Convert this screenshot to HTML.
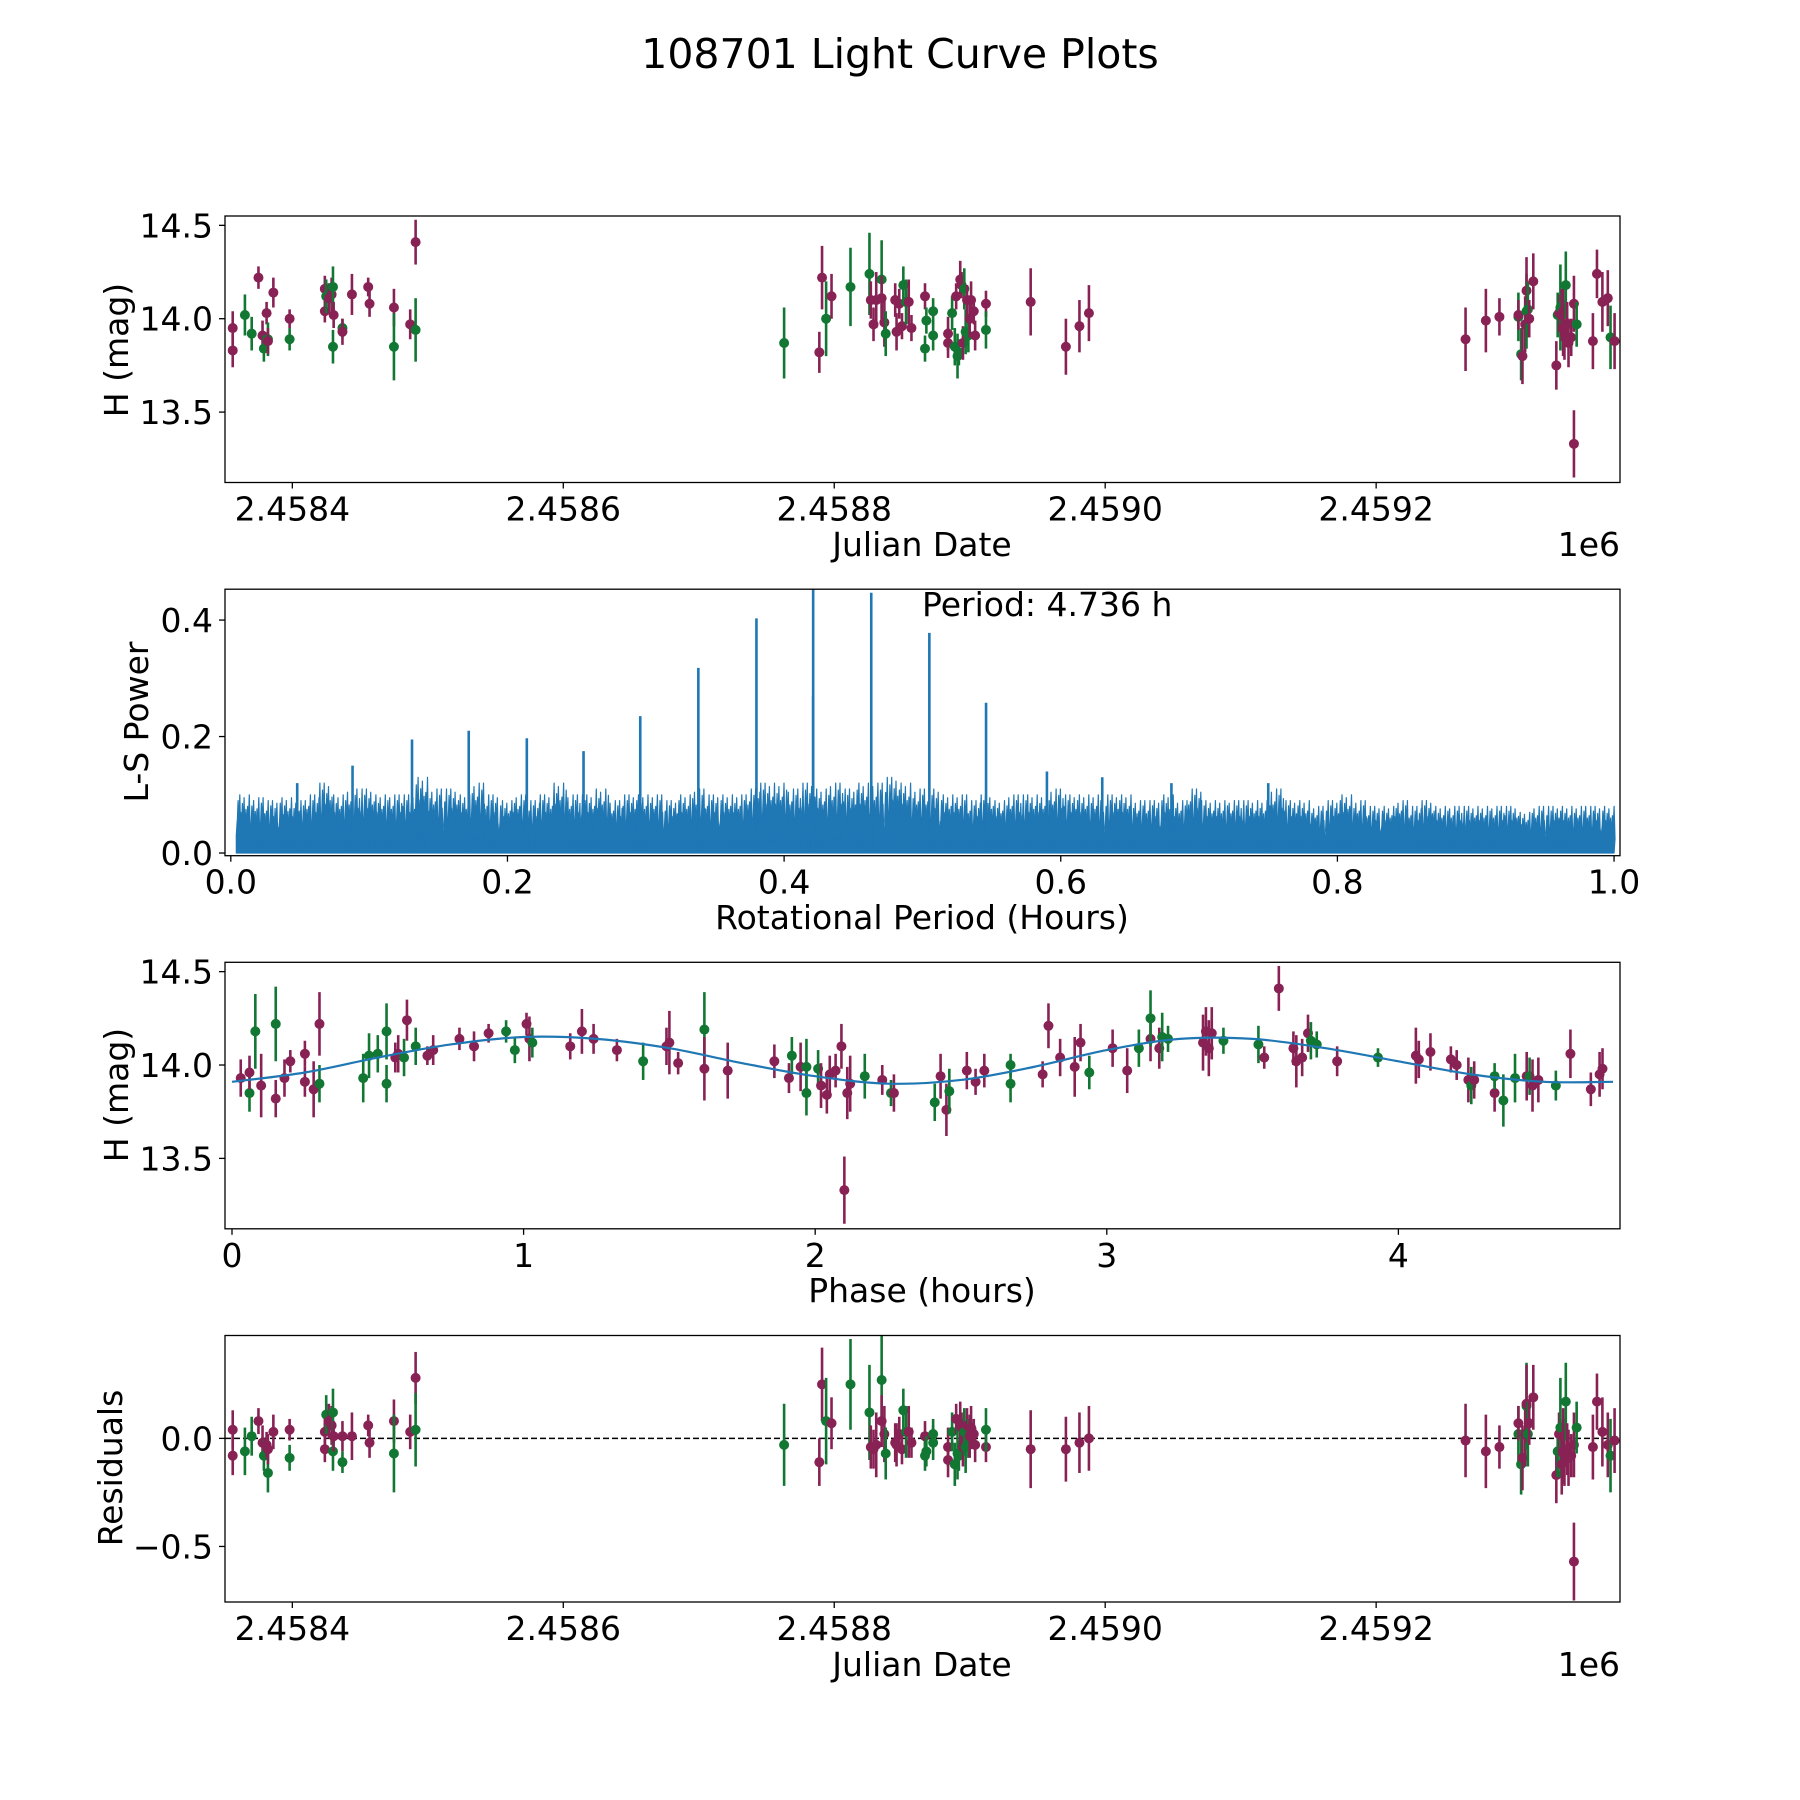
<!DOCTYPE html>
<html><head><meta charset="utf-8"><style>
html,body{margin:0;padding:0;background:#fff}
svg{display:block}
text{font-family:"DejaVu Sans","Liberation Sans",sans-serif;fill:#000}
</style></head><body>
<svg id="fig" width="1800" height="1800" viewBox="0 0 1800 1800" xmlns="http://www.w3.org/2000/svg">
<rect width="1800" height="1800" fill="#fff"/>
<text x="900" y="68" font-size="41" text-anchor="middle">108701 Light Curve Plots</text>
</svg>
<script>
// ---- Data: observations (JD offset from 2458400, magnitude, error, band) ----
const JD_BASE = 2458400;
const obsDay = [-44,-44,-35,-30,-25,-22,-21,-19,-18,-18,-14,-2,-2,24,24,25,27,29,30,30,30.5,37,37,44,56,57,75,75,87,91,91,
363,389,391,394,398,412,426,427,429,431,435,435,437,438,445,446,448,450,451,453,455,457,467,468,467,473,473,484,484,487,489,490,491,492,493,494,495,496,497,498,499,500,501,503,504,512,512,545,571,581,588,
866,881,891,905,905,907,908,910,911,911,912,913,916,933,934,935,936,937,938,938,939,940,941,942,944,946,946,948,960,963,967,971,973,976];
const obsMag = [13.95,13.83,14.02,13.92,14.22,13.91,13.84,14.03,13.89,13.88,14.14,14.00,13.89,14.04,14.16,14.12,14.11,14.13,13.85,14.17,14.02,13.95,13.93,14.13,14.17,14.08,14.06,13.85,13.97,14.41,13.94,
13.87,13.82,14.22,14.00,14.12,14.17,14.24,14.10,13.97,14.10,14.21,14.11,13.98,13.92,14.10,13.93,14.08,13.96,14.18,14.09,14.09,13.95,14.12,13.99,13.84,14.04,13.91,13.87,13.92,14.03,13.85,14.12,13.80,13.82,14.21,14.18,13.87,14.16,13.93,14.10,13.91,14.00,14.10,14.04,13.91,14.08,13.94,14.09,13.85,13.96,14.03,
13.89,13.99,14.01,14.01,14.02,13.81,13.80,13.97,14.04,14.15,14.05,14.00,14.20,13.75,14.02,14.03,14.06,14.02,13.95,14.04,13.92,14.18,13.97,13.87,13.90,13.33,14.08,13.97,13.88,14.24,14.09,14.11,13.90,13.88];
const obsErr = [0.09,0.09,0.11,0.09,0.06,0.08,0.07,0.06,0.09,0.07,0.08,0.05,0.06,0.06,0.07,0.09,0.08,0.09,0.09,0.11,0.07,0.05,0.07,0.11,0.05,0.07,0.1,0.18,0.08,0.12,0.17,
0.19,0.11,0.17,0.2,0.12,0.21,0.22,0.1,0.09,0.15,0.21,0.12,0.13,0.12,0.09,0.1,0.08,0.07,0.1,0.12,0.12,0.07,0.07,0.07,0.07,0.07,0.08,0.08,0.09,0.09,0.1,0.07,0.12,0.07,0.1,0.07,0.09,0.11,0.12,0.08,0.09,0.1,0.1,0.07,0.08,0.07,0.1,0.18,0.15,0.14,0.15,
0.17,0.17,0.1,0.13,0.08,0.14,0.15,0.15,0.2,0.18,0.15,0.1,0.15,0.13,0.12,0.1,0.23,0.14,0.15,0.13,0.14,0.18,0.12,0.13,0.1,0.18,0.15,0.12,0.15,0.13,0.16,0.15,0.17,0.15];
const obsBand = ("mmggmmgmgm"+"mmgmmgmmgg"+"mgmmmmmgmm"+"g"+
  "gmmgmggmmm"+"gmmgmmmmgg"+"mmmggggmmgm".slice(0,10)+"gmggmmmggm"+"gmmmmmgmmm"+"m"+
  "mmmgmgmmgm"+"gmmmgmgmmm"+"mgmmmmmgmm"+"mmgm").split('');
const residual = [0.04,-0.08,-0.06,0.01,0.08,-0.02,-0.08,-0.03,-0.16,-0.05,0.03,0.04,-0.09,-0.05,0.03,0.11,0.08,0.06,-0.06,0.12,0.01,-0.11,0.01,0.01,0.06,-0.02,0.08,-0.07,0.03,0.28,0.04,
-0.03,-0.11,0.25,0.08,0.07,0.25,0.12,-0.04,-0.05,-0.03,0.27,0.08,0.02,-0.07,-0.02,-0.03,0.02,-0.05,0.13,0.03,0.03,-0.02,0.01,-0.06,-0.08,0.02,-0.02,-0.1,-0.04,0.03,-0.12,0.09,-0.07,-0.08,0.07,0.05,-0.04,0.03,-0.04,0.06,0.0,0.01,0.05,0.02,-0.03,-0.04,0.04,-0.05,-0.05,-0.02,0.0,
-0.01,-0.06,-0.04,0.02,0.07,-0.12,-0.09,0.02,0.15,0.16,0.02,0.07,0.19,-0.17,-0.06,0.02,0.05,-0.12,-0.06,0.01,-0.08,0.17,-0.05,-0.09,-0.08,-0.57,-0.03,0.05,-0.04,0.17,0.03,-0.03,-0.08,-0.01];

// ---- Data: phased light curve ----
const phase = [0.03,0.06,0.06,0.08,0.1,0.15,0.15,0.18,0.2,0.25,0.25,0.28,0.3,0.3,0.45,0.47,0.5,0.53,0.53,0.56,0.57,0.59,0.6,0.63,0.67,0.69,0.78,0.83,0.88,0.94,0.97,1.01,1.02,1.03,1.16,1.2,1.24,1.32,1.41,1.49,1.5,1.53,1.62,1.62,1.7,1.86,1.91,1.92,1.95,1.97,1.97,2.01,2.02,2.04,2.05,2.07,2.09,2.11,2.1,2.12,2.17,2.23,2.26,2.27,2.41,2.43,2.45,2.46,2.52,2.55,2.58,2.67,2.67,2.78,2.8,2.84,2.89,2.91,2.94,3.02,3.07,3.11,3.15,3.15,3.18,3.19,3.21,3.33,3.34,3.35,3.36,3.4,3.52,3.54,3.59,3.64,3.65,3.67,3.69,3.7,3.72,3.79,3.93,4.06,4.07,4.11,4.18,4.2,4.24,4.25,4.26,4.33,4.33,4.36,4.4,4.44,4.45,4.46,4.48,4.54,4.59,4.66,4.69,4.7];
const phaseMag = [13.93,13.85,13.96,14.18,13.89,14.22,13.82,13.93,14.02,14.06,13.91,13.87,14.22,13.90,13.93,14.05,14.06,13.90,14.18,14.04,14.06,14.04,14.24,14.10,14.05,14.08,14.14,14.10,14.17,14.18,14.08,14.22,14.14,14.12,14.10,14.18,14.14,14.08,14.02,14.10,14.12,14.01,14.19,13.98,13.97,14.02,13.93,14.05,13.99,13.99,13.85,13.98,13.89,13.84,13.95,13.97,14.10,13.85,13.33,13.90,13.94,13.92,13.85,13.85,13.80,13.94,13.76,13.86,13.97,13.91,13.97,13.90,14.00,13.95,14.21,14.04,13.99,14.12,13.96,14.09,13.97,14.09,14.14,14.25,14.09,14.15,14.14,14.12,14.18,14.09,14.17,14.13,14.11,14.04,14.41,14.09,14.02,14.04,14.17,14.13,14.11,14.02,14.04,14.05,14.03,14.07,14.03,14.00,13.92,13.89,13.92,13.85,13.94,13.81,13.93,13.94,13.94,13.89,13.92,13.89,14.06,13.87,13.95,13.98];
const phaseErr = [0.1,0.1,0.09,0.2,0.17,0.2,0.1,0.1,0.06,0.07,0.08,0.15,0.17,0.1,0.13,0.12,0.1,0.1,0.15,0.08,0.1,0.1,0.11,0.1,0.05,0.08,0.06,0.08,0.05,0.06,0.07,0.06,0.12,0.08,0.07,0.12,0.08,0.06,0.1,0.1,0.17,0.06,0.2,0.17,0.15,0.09,0.08,0.1,0.13,0.15,0.12,0.1,0.12,0.1,0.1,0.09,0.12,0.14,0.18,0.15,0.12,0.08,0.07,0.1,0.1,0.12,0.14,0.12,0.1,0.07,0.09,0.1,0.06,0.07,0.12,0.1,0.16,0.1,0.09,0.1,0.12,0.1,0.12,0.15,0.11,0.13,0.07,0.15,0.13,0.15,0.14,0.07,0.1,0.06,0.12,0.09,0.14,0.1,0.1,0.1,0.07,0.08,0.05,0.15,0.1,0.1,0.07,0.08,0.12,0.1,0.1,0.1,0.07,0.14,0.13,0.13,0.1,0.14,0.12,0.08,0.13,0.09,0.12,0.11];
const phaseBand = ("mgmgmgmmmm"+"mmmggggggm"+"mgmgmmmmmg"+"gmmgmmmmgm"+"mmgmmmmgmg"+"ggmmmmmmmm"+"gmgmgmmgmm"+"mggmmmmmgm"+"mgmgmggmmm"+"mggmmmmmmg"+"gmgmmmmmmg"+"mmgggmgmmg"+"mmm"+"m").split('');
// ---- Data: fitted model curve samples ----
const fitPhase = [0,0.25,0.5,0.75,1.0,1.25,1.5,1.75,2.0,2.25,2.5,2.75,3.0,3.25,3.5,3.75,4.0,4.25,4.5,4.736];
const fitMag = [13.91,13.96,14.04,14.11,14.15,14.14,14.09,14.01,13.94,13.90,13.92,13.99,14.08,14.14,14.14,14.09,14.02,13.95,13.91,13.91];

// ---- Data: periodogram (noise envelope per 0.01 h bin and peaks) ----
const lsNoise = [0.1,0.095,0.09,0.095,0.09,0.1,0.12,0.1,0.11,0.11,0.1,0.1,0.1,0.13,0.11,0.11,0.1,0.12,0.1,0.09,0.1,0.09,0.1,0.12,0.1,0.1,0.11,0.09,0.1,0.1,0.1,0.09,0.1,0.11,0.1,0.1,0.1,0.11,0.12,0.12,0.11,0.12,0.11,0.12,0.11,0.12,0.12,0.13,0.12,0.11,0.11,0.1,0.1,0.09,0.1,0.09,0.1,0.1,0.1,0.11,0.1,0.1,0.1,0.1,0.1,0.09,0.09,0.1,0.09,0.11,0.09,0.09,0.09,0.09,0.09,0.11,0.09,0.09,0.08,0.09,0.1,0.09,0.08,0.08,0.09,0.08,0.09,0.08,0.08,0.08,0.08,0.08,0.08,0.07,0.08,0.08,0.08,0.08,0.08,0.08];
const lsPeakPeriod = [0.048,0.088,0.131,0.172,0.214,0.255,0.296,0.338,0.38,0.421,0.421,0.463,0.505,0.546,0.59,0.63,0.68,0.75];
const lsPeakPower = [0.12,0.15,0.195,0.21,0.197,0.175,0.235,0.318,0.403,0.455,0.27,0.447,0.378,0.258,0.14,0.13,0.12,0.12];
const lsTicks = [0.0,0.2,0.4,0.6,0.8,1.0];
const lsYTicks = [0.0,0.2,0.4];

const svg = document.getElementById('fig');
const NS = 'http://www.w3.org/2000/svg';
function mk(tag, attrs, parent){const e=document.createElementNS(NS,tag);for(const k in attrs)e.setAttribute(k,attrs[k]);(parent||svg).appendChild(e);return e;}
const MAG = '#882255', GRN = '#117733', BLUE = '#1f77b4';
const L = 225, R = 1620, H = 266.5;
const tops = [216, 589.2, 962.3, 1335.5];
function lin(d0,d1,p0,p1){return v=>p0+(v-d0)/(d1-d0)*(p1-p0);}

function axesFrame(i, name){
  const g = mk('g',{});
  
  
  return g;
}
function border(g,i){
  const r = mk('rect',{x:L,y:tops[i],width:R-L,height:H,fill:'none',stroke:'#000','stroke-width':1.3},g);
  
  
}
function xTicks(g,i,vals,sx,fmt){
  const yb = tops[i]+H;
  vals.forEach(v=>{
    const x = sx(v);
    mk('line',{x1:x,x2:x,y1:yb,y2:yb+6,stroke:'#000','stroke-width':1.3},g);
    const t = mk('text',{x:x,y:yb+38,'font-size':33,'text-anchor':'middle'},g);
    t.textContent = fmt(v);
    
    
  });
}
function yTicks(g,i,vals,sy,fmt){
  vals.forEach(v=>{
    const y = sy(v);
    mk('line',{x1:L-6,x2:L,y1:y,y2:y,stroke:'#000','stroke-width':1.3},g);
    const t = mk('text',{x:L-12,y:y+12,'font-size':33,'text-anchor':'end'},g);
    t.textContent = fmt(v);
    
    
  });
}
function label(g,txt,x,y,rot,name){
  const t = mk('text',{x:x,y:y,'font-size':33,'text-anchor':'middle',transform:rot?`rotate(-90 ${x} ${y})`:''},g);
  t.textContent = txt;
  
  
}
function clip(i){
  const c = mk('clipPath',{id:'clip'+i});
  mk('rect',{x:L,y:tops[i],width:R-L,height:H},c);
  return 'url(#clip'+i+')';
}
function errPoint(g,x,y,y1,y2,col){
  mk('line',{x1:x,x2:x,y1:y1,y2:y2,stroke:col,'stroke-width':2.6},g);
  const c = mk('circle',{cx:x,cy:y,r:5,fill:col},g);
  
  
}

// ---- Panel 1: light curve vs JD ----
{
  const i=0, g=axesFrame(i,'light-curve-panel');
  const sx = lin(2458350.3,2459380,L,R), sy = lin(13.123,14.55,tops[i]+H,tops[i]);
  const pg = mk('g',{'clip-path':clip(i)},g);
  obsDay.forEach((d,k)=>{
    const col = obsBand[k]==='g'?GRN:MAG;
    errPoint(pg,sx(JD_BASE+d),sy(obsMag[k]),sy(obsMag[k]+obsErr[k]),sy(obsMag[k]-obsErr[k]),col);
  });
  border(g,i);
  xTicks(g,i,[2458400,2458600,2458800,2459000,2459200],sx,v=>(v/1e6).toFixed(4));
  yTicks(g,i,[13.5,14.0,14.5],sy,v=>v.toFixed(1));
  label(g,'Julian Date',922,556,false,'x-axis-title');
  label(g,'H (mag)',128,350,true,'y-axis-title');
  const o=mk('text',{x:1620,y:556,'font-size':33,'text-anchor':'end'},g);o.textContent='1e6';
  
  
}
// ---- Panel 2: periodogram ----
{
  const i=1, g=axesFrame(i,'periodogram-panel');
  const sx = lin(-0.0042,1.0043,L,R), sy = lin(-0.0046,0.453,tops[i]+H,tops[i]);
  const pg = mk('g',{'clip-path':clip(i)},g);
  const tex=[0.55,0.9,0.4,1.0,0.7,0.3,0.85,0.6,0.95,0.5,0.75,0.35,0.8,0.65,1.0,0.45];
  let d='M'+sx(0.004)+' '+sy(0);
  lsNoise.forEach((v,b)=>{
    for(let s=0;s<16;s++){
      const p = 0.004 + (b+ s/16)*0.00996;
      const top = v*tex[(s+b*5)%16];
      d += ` L${sx(p).toFixed(1)} ${sy(top*0.55).toFixed(1)} L${(sx(p)+0.9).toFixed(1)} ${sy(top).toFixed(1)} L${(sx(p)+1.8).toFixed(1)} ${sy(top*0.3).toFixed(1)}`;
    }
  });
  d += ` L${sx(1.0)} ${sy(0)} Z`;
  const area = mk('path',{d:d,fill:BLUE,stroke:BLUE,'stroke-width':1.2,'stroke-linejoin':'round'},pg);
  
  
  lsPeakPeriod.forEach((p,k)=>{
    const ln = mk('line',{x1:sx(p),x2:sx(p),y1:sy(0),y2:sy(lsPeakPower[k]),stroke:BLUE,'stroke-width':2.6},pg);
    
    
  });
  border(g,i);
  xTicks(g,i,lsTicks,sx,v=>v.toFixed(1));
  yTicks(g,i,lsYTicks,sy,v=>v.toFixed(1));
  label(g,'Rotational Period (Hours)',922,929,false,'x-axis-title');
  label(g,'L-S Power',148,722,true,'y-axis-title');
  const t=mk('text',{x:922,y:616,'font-size':33},g);t.textContent='Period: 4.736 h';
  
  
}
// ---- Panel 3: phased ----
{
  const i=2, g=axesFrame(i,'phase-panel');
  const sx = lin(-0.024,4.76,L,R), sy = lin(13.123,14.55,tops[i]+H,tops[i]);
  const pg = mk('g',{'clip-path':clip(i)},g);
  phase.forEach((p,k)=>{
    const col = phaseBand[k]==='g'?GRN:MAG;
    errPoint(pg,sx(p),sy(phaseMag[k]),sy(phaseMag[k]+phaseErr[k]),sy(phaseMag[k]-phaseErr[k]),col);
  });
  const P = fitPhase.map((p,k)=>[sx(p),sy(fitMag[k])]);
  let d = `M${P[0][0]} ${P[0][1]}`;
  for(let k=0;k<P.length-1;k++){
    const p0=P[Math.max(k-1,0)],p1=P[k],p2=P[k+1],p3=P[Math.min(k+2,P.length-1)];
    d += ` C${p1[0]+(p2[0]-p0[0])/6} ${p1[1]+(p2[1]-p0[1])/6} ${p2[0]-(p3[0]-p1[0])/6} ${p2[1]-(p3[1]-p1[1])/6} ${p2[0]} ${p2[1]}`;
  }
  const fit = mk('path',{d:d,fill:'none',stroke:BLUE,'stroke-width':2.2},pg);
  
  
  border(g,i);
  xTicks(g,i,[0,1,2,3,4],sx,v=>String(v));
  yTicks(g,i,[13.5,14.0,14.5],sy,v=>v.toFixed(1));
  label(g,'Phase (hours)',922,1302,false,'x-axis-title');
  label(g,'H (mag)',128,1095,true,'y-axis-title');
}
// ---- Panel 4: residuals ----
{
  const i=3, g=axesFrame(i,'residuals-panel');
  const sx = lin(2458350.3,2459380,L,R), sy = lin(-0.757,0.476,tops[i]+H,tops[i]);
  const pg = mk('g',{'clip-path':clip(i)},g);
  const zl = mk('line',{x1:L,x2:R,y1:sy(0),y2:sy(0),stroke:'#000','stroke-width':1.6,'stroke-dasharray':'6,3'},pg);
  
  
  obsDay.forEach((d,k)=>{
    const col = obsBand[k]==='g'?GRN:MAG;
    errPoint(pg,sx(JD_BASE+d),sy(residual[k]),sy(residual[k]+obsErr[k]),sy(residual[k]-obsErr[k]),col);
  });
  border(g,i);
  xTicks(g,i,[2458400,2458600,2458800,2459000,2459200],sx,v=>(v/1e6).toFixed(4));
  yTicks(g,i,[-0.5,0.0],sy,v=>v<0?'\u2212'+Math.abs(v).toFixed(1):v.toFixed(1));
  label(g,'Julian Date',922,1676,false,'x-axis-title');
  label(g,'Residuals',122,1468,true,'y-axis-title');
  const o=mk('text',{x:1620,y:1676,'font-size':33,'text-anchor':'end'},g);o.textContent='1e6';
  
  
}
</script>
</body></html>
